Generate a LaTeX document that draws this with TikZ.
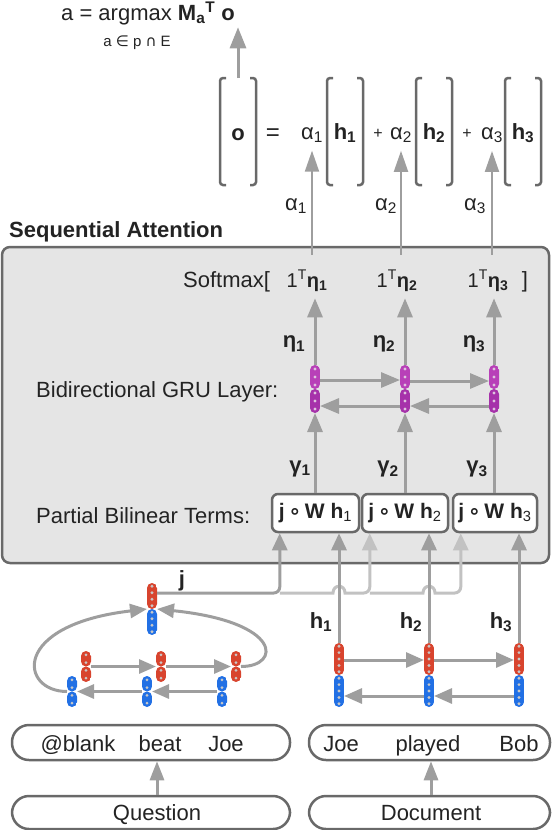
\documentclass[tikz,border=0pt]{standalone}
\usepackage{fontspec}
\setmainfont{Liberation Sans}
\newfontfamily\dejavu{DejaVu Sans}
\usetikzlibrary{arrows.meta,calc}
\definecolor{arrc}{RGB}{158,158,158}
\definecolor{lightc}{RGB}{194,194,194}
\definecolor{bordc}{RGB}{105,105,105}
\definecolor{attfill}{RGB}{229,229,229}
\definecolor{txtc}{RGB}{35,35,35}
\definecolor{qred}{RGB}{216,68,46}
\definecolor{qblue}{RGB}{34,112,228}
\definecolor{ptop}{RGB}{184,64,184}
\definecolor{pbot}{RGB}{166,50,170}
\definecolor{dotc}{RGB}{200,200,200}
\definecolor{pdot}{RGB}{222,196,222}
\newcommand\mybrk[1]{%
  \draw[brk] ([xshift=6pt]#1.north west) -- (#1.north west) -- (#1.south west) -- ([xshift=6pt]#1.south west);
  \draw[brk] ([xshift=-6pt]#1.north east) -- (#1.north east) -- (#1.south east) -- ([xshift=-6pt]#1.south east);}
\begin{document}
\begin{tikzpicture}[x=1pt,y=-1pt,
  lbl/.style={font=\fontsize{22}{26}\selectfont, text=txtc, inner sep=1pt},
  blbl/.style={font=\bfseries\fontsize{22}{26}\selectfont, text=txtc, inner sep=1pt},
  arr/.style={draw=arrc, line width=3pt, -{Triangle[width=15pt,length=19pt]}},
  thinarr/.style={draw=arrc, line width=2pt, -{Triangle[width=14pt,length=21pt]}},
  lightarr/.style={draw=lightc, line width=3pt, -{Triangle[width=15pt,length=17pt]}},
  brk/.style={draw=bordc, line width=2.5pt, rounded corners=3pt},
  brbox/.style={minimum width=36pt, minimum height=107pt, inner sep=0pt, outer sep=0pt},
  tok/.style={draw=bordc, line width=2.5pt, rounded corners=17pt, fill=white, minimum height=35pt, inner sep=0pt},
  pbt/.style={draw=bordc, line width=2.5pt, rounded corners=6pt, fill=white, minimum width=86pt, minimum height=38pt, inner sep=0pt, text=txtc, font=\bfseries\fontsize{21}{25}\selectfont},
  vec/.style n args={4}{rectangle, rounded corners=5pt, minimum width=10pt, minimum height=#3, inner sep=0pt, outer sep=0pt,
    path picture={
      \fill[#1] (path picture bounding box.north west) rectangle (path picture bounding box.east);
      \fill[#2] (path picture bounding box.west) rectangle (path picture bounding box.south east);
      \pgfmathtruncatemacro\nd{2*round((#3)/14)}
      \foreach \k in {1,...,\nd}
        \fill[#4] ($(path picture bounding box.north)!{(\k-0.5)/\nd}!(path picture bounding box.south)$) circle (1.6pt);
    }},
]
\useasboundingbox (0,0) rectangle (552,830);

% ---------- top formula ----------
\node[lbl, anchor=base] (ans) at (148,20) {a = argmax \textbf{M\textsubscript{a}\textsuperscript{T} o}};
\node[font=\fontsize{15}{17}\selectfont, text=txtc, anchor=base, inner sep=1pt] (anssub) at (137,46) {a {\dejavu ∈} p {\dejavu ∩} E};

\node[brbox] (ob) at (238,131.5) {};
\node[brbox] (hb1) at (345,131.5) {};
\node[brbox] (hb2) at (434,131.5) {};
\node[brbox] (hb3) at (523,131.5) {};
\mybrk{ob}\mybrk{hb1}\mybrk{hb2}\mybrk{hb3}
\node[blbl, anchor=base] (ov) at (238,140) {o};
\node[font=\fontsize{24}{28}\selectfont, text=txtc, anchor=base] (eq) at (273,140) {=};
\node[lbl, anchor=base] (a1) at (312,139) {α\textsubscript{1}};
\node[blbl, anchor=base] (h1) at (345,139) {h\textsubscript{1}};
\node[font=\fontsize{16}{18}\selectfont, text=txtc, anchor=base] (p1) at (378,138) {+};
\node[lbl, anchor=base] (a2) at (401,139) {α\textsubscript{2}};
\node[blbl, anchor=base] (h2) at (434,139) {h\textsubscript{2}};
\node[font=\fontsize{16}{18}\selectfont, text=txtc, anchor=base] (p2) at (467,138) {+};
\node[lbl, anchor=base] (a3) at (492,139) {α\textsubscript{3}};
\node[blbl, anchor=base] (h3) at (523,139) {h\textsubscript{3}};

\draw[arr, -{Triangle[width=16pt,length=21pt]}, shorten >=1.5pt] (ob.north) -- (ob.north |- ans.south);

% ---------- sequential attention ----------
\node[draw=bordc, fill=attfill, line width=2.5pt, rounded corners=8pt, minimum width=547pt, minimum height=316pt, inner sep=0pt] (att) at (275.5,405) {};
\node[blbl, anchor=base west] (title) at (8,237) {Sequential Attention};

\node[lbl, anchor=base west] (softl) at (182,287) {Softmax[};
\node[font=\fontsize{20}{24}\selectfont, text=txtc, anchor=base, inner sep=1pt] (s1) at (307,287) {1\textsuperscript{T}\textbf{η\textsubscript{1}}};
\node[font=\fontsize{20}{24}\selectfont, text=txtc, anchor=base, inner sep=1pt] (s2) at (397,287) {1\textsuperscript{T}\textbf{η\textsubscript{2}}};
\node[font=\fontsize{20}{24}\selectfont, text=txtc, anchor=base, inner sep=1pt] (s3) at (488,287) {1\textsuperscript{T}\textbf{η\textsubscript{3}}};
\node[lbl, anchor=base] (softr) at (525,287) {]};

\node[lbl, anchor=base west] (grul) at (35,397) {Bidirectional GRU Layer:};
\node[lbl, anchor=base west] (pbtl) at (35,523) {Partial Bilinear Terms:};

% alpha labels between
\node[lbl] (al1) at (296,206) {α\textsubscript{1}};
\node[lbl] (al2) at (386,206) {α\textsubscript{2}};
\node[lbl] (al3) at (475,206) {α\textsubscript{3}};

% GRU vectors
\node[vec={ptop}{pbot}{48pt}{pdot}] (g1) at (315,389) {};
\node[vec={ptop}{pbot}{48pt}{pdot}] (g2) at (405,389) {};
\node[vec={ptop}{pbot}{48pt}{pdot}] (g3) at (494,389) {};

\draw[arr] ([yshift=9pt]g1.east) -- ([yshift=9pt]g2.west);
\draw[arr] ([yshift=8pt]g2.east) -- ([yshift=8pt]g3.west);
\draw[arr] ([yshift=-17pt]g3.west) -- ([yshift=-17pt]g2.east);
\draw[arr] ([yshift=-17pt]g2.west) -- ([yshift=-17pt]g1.east);

% eta labels
\node[blbl] (e1) at (294,344) {η\textsubscript{1}};
\node[blbl] (e2) at (384,344) {η\textsubscript{2}};
\node[blbl] (e3) at (474,344) {η\textsubscript{3}};

\draw[arr, shorten >=6pt] (g1.north) -- (g1.north |- s1.south);
\draw[arr, shorten >=6pt] (g2.north) -- (g2.north |- s2.south);
\draw[arr, shorten >=6pt] (g3.north) -- (g3.north |- s3.south);

\draw[thinarr, shorten >=7pt] ([yshift=14pt]a1.south |- s1.north) -- (a1.south);
\draw[thinarr, shorten >=7pt] ([yshift=14pt]a2.south |- s2.north) -- (a2.south);
\draw[thinarr, shorten >=7pt] ([yshift=14pt]a3.south |- s3.north) -- (a3.south);

% partial bilinear boxes
\node[pbt, minimum width=87pt] (b1) at (315.5,513) {j\,{\dejavu ∘}\,W h\textsubscript{\mdseries 1}};
\node[pbt] (b2) at (405,513) {j\,{\dejavu ∘}\,W h\textsubscript{\mdseries 2}};
\node[pbt, minimum width=84pt] (b3) at (495,513) {j\,{\dejavu ∘}\,W h\textsubscript{\mdseries 3}};

\node[blbl] (y1) at (300,469) {γ\textsubscript{1}};
\node[blbl] (y2) at (388,469) {γ\textsubscript{2}};
\node[blbl] (y3) at (477,469) {γ\textsubscript{3}};

\draw[arr] (b1.north -| g1) -- (g1.south);
\draw[arr] (b2.north -| g2) -- (g2.south);
\draw[arr] (b3.north -| g3) -- (g3.south);

% ---------- question encoder ----------
\node[vec={qred}{qblue}{52pt}{dotc}] (jv) at (152,609) {};
\node[vec={qred}{qred}{31pt}{dotc}] (qr1) at (86,666.5) {};
\node[vec={qred}{qred}{31pt}{dotc}] (qr2) at (161,666.5) {};
\node[vec={qred}{qred}{31pt}{dotc}] (qr3) at (236,666.5) {};
\node[vec={qblue}{qblue}{31pt}{dotc}] (qb1) at (72,691.5) {};
\node[vec={qblue}{qblue}{31pt}{dotc}] (qb2) at (147,691.5) {};
\node[vec={qblue}{qblue}{31pt}{dotc}] (qb3) at (222,691.5) {};

\draw[arr, -{Triangle[width=14pt,length=17pt]}] (qr1.east) -- (qr2.west);
\draw[arr, -{Triangle[width=14pt,length=17pt]}] (qr2.east) -- (qr3.west);
\draw[arr, -{Triangle[width=14pt,length=17pt]}] (qb3.west) -- (qb2.east);
\draw[arr, -{Triangle[width=14pt,length=17pt]}] (qb2.west) -- (qb1.east);

\draw[arr, -{Triangle[width=14pt,length=17pt]}] (qb1.west) .. controls +(-47pt,0pt) and +(-137pt,-16pt) .. (jv.west);
\draw[arr, -{Triangle[width=14pt,length=17pt]}] (qr3.east) .. controls +(40pt,0pt) and +(126pt,-13pt) .. (jv.east);

\node[blbl] (jl) at (182,581) {j};

% ---------- document encoder ----------
\node[vec={qred}{qblue}{64pt}{dotc}] (d1) at (339,675) {};
\node[vec={qred}{qblue}{64pt}{dotc}] (d2) at (429,675) {};
\node[vec={qred}{qblue}{64pt}{dotc}] (d3) at (519,675) {};

\draw[arr, -{Triangle[width=15pt,length=18pt]}] ([yshift=15pt]d1.east) -- ([yshift=15pt]d2.west);
\draw[arr, -{Triangle[width=15pt,length=18pt]}] ([yshift=15pt]d2.east) -- ([yshift=15pt]d3.west);
\draw[arr, -{Triangle[width=15pt,length=18pt]}] ([yshift=-21pt]d3.west) -- ([yshift=-21pt]d2.east);
\draw[arr, -{Triangle[width=15pt,length=18pt]}] ([yshift=-21pt]d2.west) -- ([yshift=-21pt]d1.east);

\node[blbl] (hl1) at (321,622) {h\textsubscript{1}};
\node[blbl] (hl2) at (411,622) {h\textsubscript{2}};
\node[blbl] (hl3) at (501,622) {h\textsubscript{3}};

% ---------- j routing ----------
\coordinate (jrow) at (0,593);
\draw[lightarr] ([xshift=9pt]b1.south west |- jrow) -- ([xshift=-6pt]d1.north |- jrow)
   .. controls +(0pt,9pt) and +(0pt,9pt) .. ([xshift=6pt]d1.north |- jrow)
   [rounded corners=6pt] -- ([xshift=9pt]b2.south west |- jrow) -- ([xshift=9pt]b2.south west);
\draw[lightarr] ([xshift=9pt]b2.south west |- jrow) -- ([xshift=-6pt]d2.north |- jrow)
   .. controls +(0pt,9pt) and +(0pt,9pt) .. ([xshift=6pt]d2.north |- jrow)
   [rounded corners=6pt] -- ([xshift=9pt]b3.south west |- jrow) -- ([xshift=9pt]b3.south west);
\draw[arr, -{Triangle[width=15pt,length=17pt]}] (d1.north) -- (d1.north |- b1.south);
\draw[arr, -{Triangle[width=15pt,length=17pt]}] (d2.north) -- (d2.north |- b2.south);
\draw[arr, -{Triangle[width=15pt,length=17pt]}] (d3.north) -- (d3.north |- b3.south);
\draw[arr, rounded corners=6pt, -{Triangle[width=15pt,length=17pt]}] ([yshift=16pt]jv.east) -| ([xshift=9pt]b1.south west);

% ---------- token boxes ----------
\node[tok, minimum width=278pt] (qt) at (151,742.5) {};
\node[lbl, anchor=base] (w1) at (78,751) {@blank};
\node[lbl, anchor=base] (w2) at (160,751) {beat};
\node[lbl, anchor=base] (w3) at (226,751) {Joe};
\node[tok, minimum width=241pt] (dt) at (429.5,742.5) {};
\node[lbl, anchor=base] (v1) at (341,751) {Joe};
\node[lbl, anchor=base] (v2) at (428,751) {played};
\node[lbl, anchor=base] (v3) at (519,751) {Bob};

\node[tok, minimum width=278pt, minimum height=33pt] (qq) at (151,812.5) {};
\node[lbl, anchor=base] (qlab) at (157,820) {Question};
\node[tok, minimum width=241pt, minimum height=33pt] (dq) at (429.5,812.5) {};
\node[lbl, anchor=base] (dlab) at (431,820) {Document};

\draw[arr, -{Triangle[width=14pt,length=19pt]}] (qq.north -| qlab) -- (qt.south -| qlab);
\draw[arr, -{Triangle[width=14pt,length=19pt]}] (dq.north -| dlab) -- (dt.south -| dlab);
\end{tikzpicture}
\end{document}
